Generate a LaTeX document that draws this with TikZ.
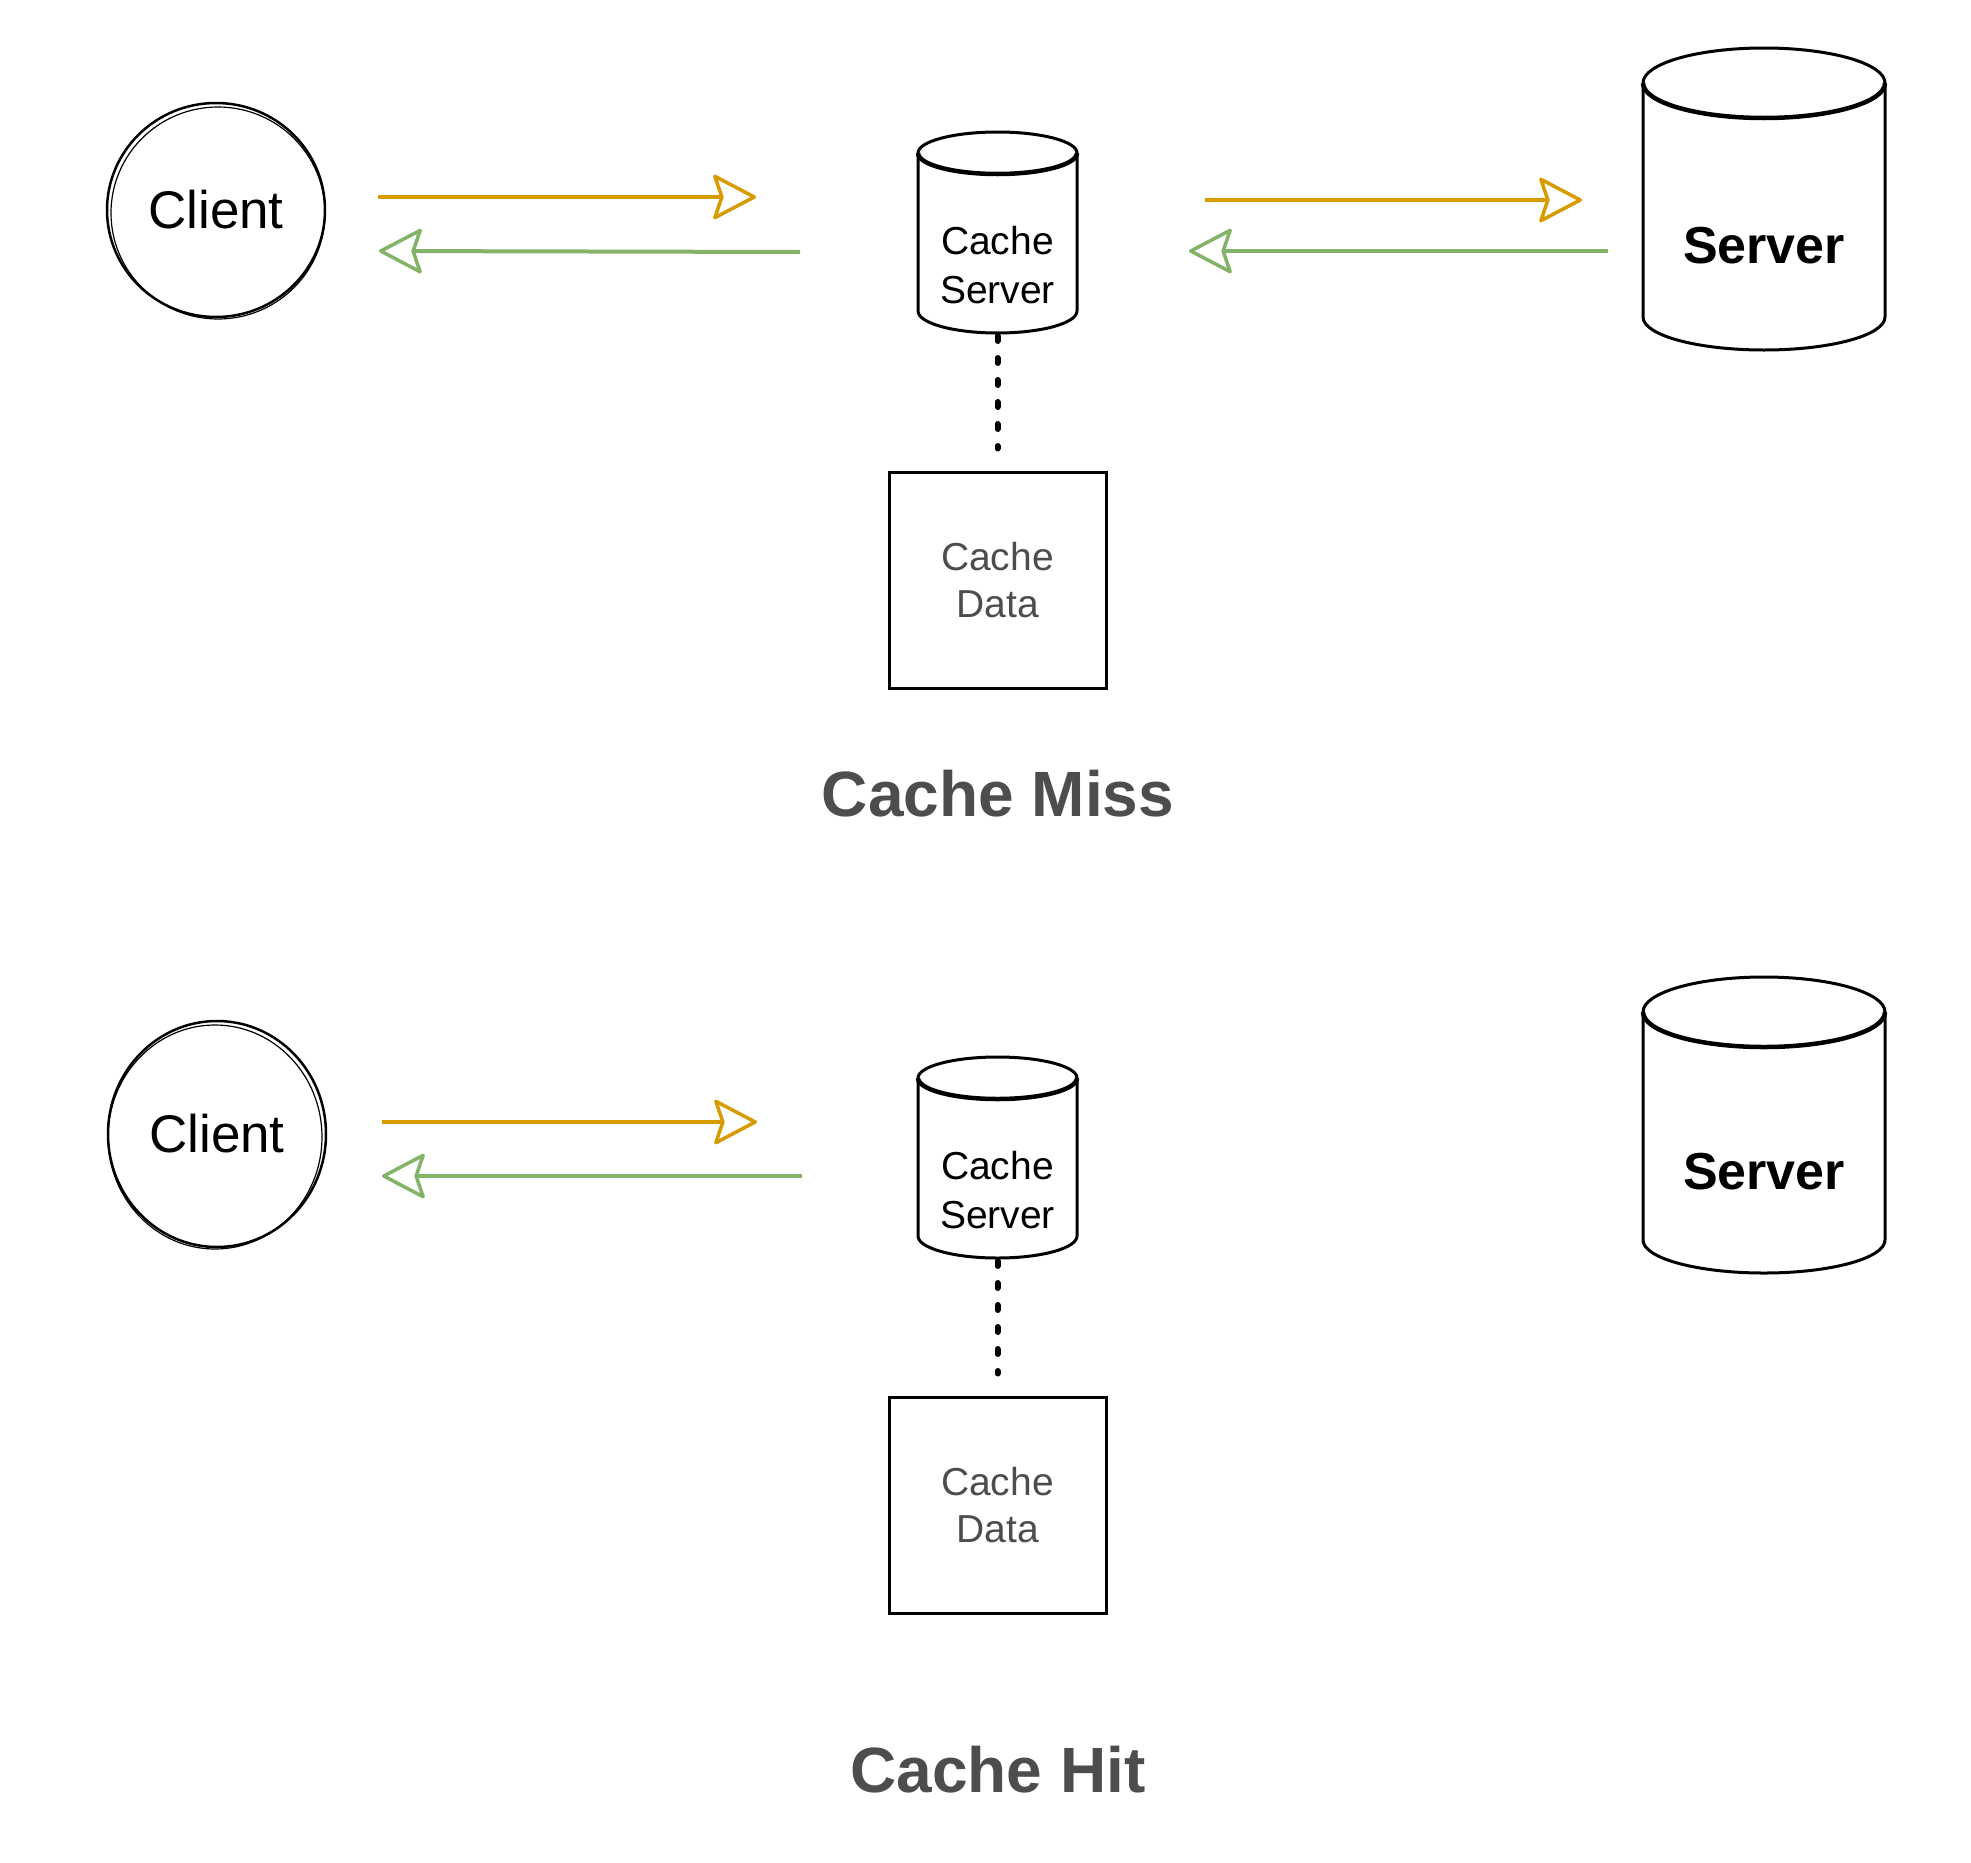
\documentclass[tikz,border=0pt]{standalone}
\usepackage{fontspec}
\setmainfont{Liberation Sans}
\usetikzlibrary{arrows.meta,shapes.geometric,calc}
\definecolor{dvorange}{HTML}{D79B00}
\definecolor{dvgreen}{HTML}{82B366}
\definecolor{txtgray}{HTML}{4D4D4D}
% name, rx, ry top, ry bottom
\newcommand\drawcyl[4]{%
  \draw[outline] let \p1=(#1.north west), \p2=(#1.south east) in
    (\x1,{\y1-#3pt}) -- (\x1,{\y2+#4pt})
    arc[start angle=180,end angle=360,x radius=#2pt,y radius=#4pt]
    -- (\x2,{\y1-#3pt})
    arc[start angle=0,end angle=180,x radius=#2pt,y radius=#3pt] -- cycle;
  \draw[outline,line width=4.5pt] let \p1=(#1.north west) in
    (\x1,{\y1-#3pt}) arc[start angle=180,end angle=360,x radius=#2pt,y radius=#3pt];
}
\begin{document}
\begin{tikzpicture}[x=1pt,y=-1pt,
  outline/.style={line width=3pt,line join=round,draw=black},
  client/.style={draw,ellipse,line width=2.5pt,inner sep=0pt,font=\fontsize{53}{64}\selectfont},
  cylbody/.style={inner sep=0pt,outer sep=0pt,draw=none},
  cstext/.style={align=center,inner sep=0pt,font=\fontsize{39}{49}\selectfont},
  svtext/.style={inner sep=0pt,anchor=base,font=\fontsize{52}{62}\selectfont\bfseries},
  cdbox/.style={draw,line width=3pt,minimum width=217pt,minimum height=216pt,inner sep=0pt,
     align=center,text=txtgray,font=\fontsize{39}{47}\selectfont},
  dotline/.style={line width=6pt,line cap=round,dash pattern=on 5pt off 17pt},
  titletext/.style={inner sep=0pt,anchor=base,text=txtgray,font=\fontsize{64}{77}\selectfont\bfseries},
  headtip/.style={-{Stealth[open,length=46pt,width=48pt,inset=8pt,line width=3.5pt,round]}},
  oarrow/.style={draw=dvorange,line width=4.5pt,headtip},
  garrow/.style={draw=dvgreen,line width=4pt,headtip}
]
\fill[white] (0,0) rectangle (1971,1863);
\useasboundingbox (0,0) rectangle (1971,1863);

% ---------- Cache Miss ----------
\node[client,minimum width=218pt,minimum height=214pt] (cl1) at (216,210) {Client};
\draw[line width=1.2pt] (cl1.center) ++(2pt,-3pt) ellipse [x radius=107pt,y radius=106pt];

\node[cylbody,minimum width=159pt,minimum height=201pt] (cs1) at (997.5,232.5) {};
\drawcyl{cs1}{79.5}{21}{22}
\node[cstext] (cs1t) at (997.5,265) {Cache\\Server};

\node[cylbody,minimum width=242pt,minimum height=302pt] (sv1) at (1764,199) {};
\drawcyl{sv1}{121}{35}{33}
\node[svtext] (sv1t) at (1764,263) {Server};

\node[cdbox] (cd1) at (997.5,580) {Cache\\Data};
\draw[dotline] ([yshift=-3pt]cs1.south) -- ([yshift=22pt]cd1.north);

\coordinate (o1s) at (378,197);  \coordinate (o1e) at (756,197);
\coordinate (g1s) at (800,252);  \coordinate (g1e) at (379,251);
\coordinate (o2s) at (1205,200); \coordinate (o2e) at (1582,200);
\coordinate (g2s) at (1608,251); \coordinate (g2e) at (1189,251);
\draw[oarrow] (o1s) -- (o1e);
\draw[garrow] (g1s) -- (g1e);
\draw[oarrow] (o2s) -- (o2e);
\draw[garrow] (g2s) -- (g2e);

\node[titletext] (t1) at (998,816) {Cache Miss};

% ---------- Cache Hit ----------
\node[client,minimum width=218pt,minimum height=226pt] (cl2) at (217,1134) {Client};
\draw[line width=1.2pt] (cl2.center) ++(-2pt,-3pt) ellipse [x radius=107pt,y radius=112pt];

\node[cylbody,minimum width=159pt,minimum height=201pt] (cs2) at (997.5,1157.5) {};
\drawcyl{cs2}{79.5}{21}{22}
\node[cstext] (cs2t) at (997.5,1190) {Cache\\Server};

\node[cylbody,minimum width=242pt,minimum height=296pt] (sv2) at (1764,1125) {};
\drawcyl{sv2}{121}{35}{33}
\node[svtext] (sv2t) at (1764,1189) {Server};

\node[cdbox] (cd2) at (997.5,1505) {Cache\\Data};
\draw[dotline] ([yshift=-3pt]cs2.south) -- ([yshift=22pt]cd2.north);

\coordinate (o3s) at (382,1122); \coordinate (o3e) at (757,1122);
\coordinate (g3s) at (802,1176); \coordinate (g3e) at (382,1176);
\draw[oarrow] (o3s) -- (o3e);
\draw[garrow] (g3s) -- (g3e);

\node[titletext] (t2) at (998,1792) {Cache Hit};
\end{tikzpicture}
\end{document}
